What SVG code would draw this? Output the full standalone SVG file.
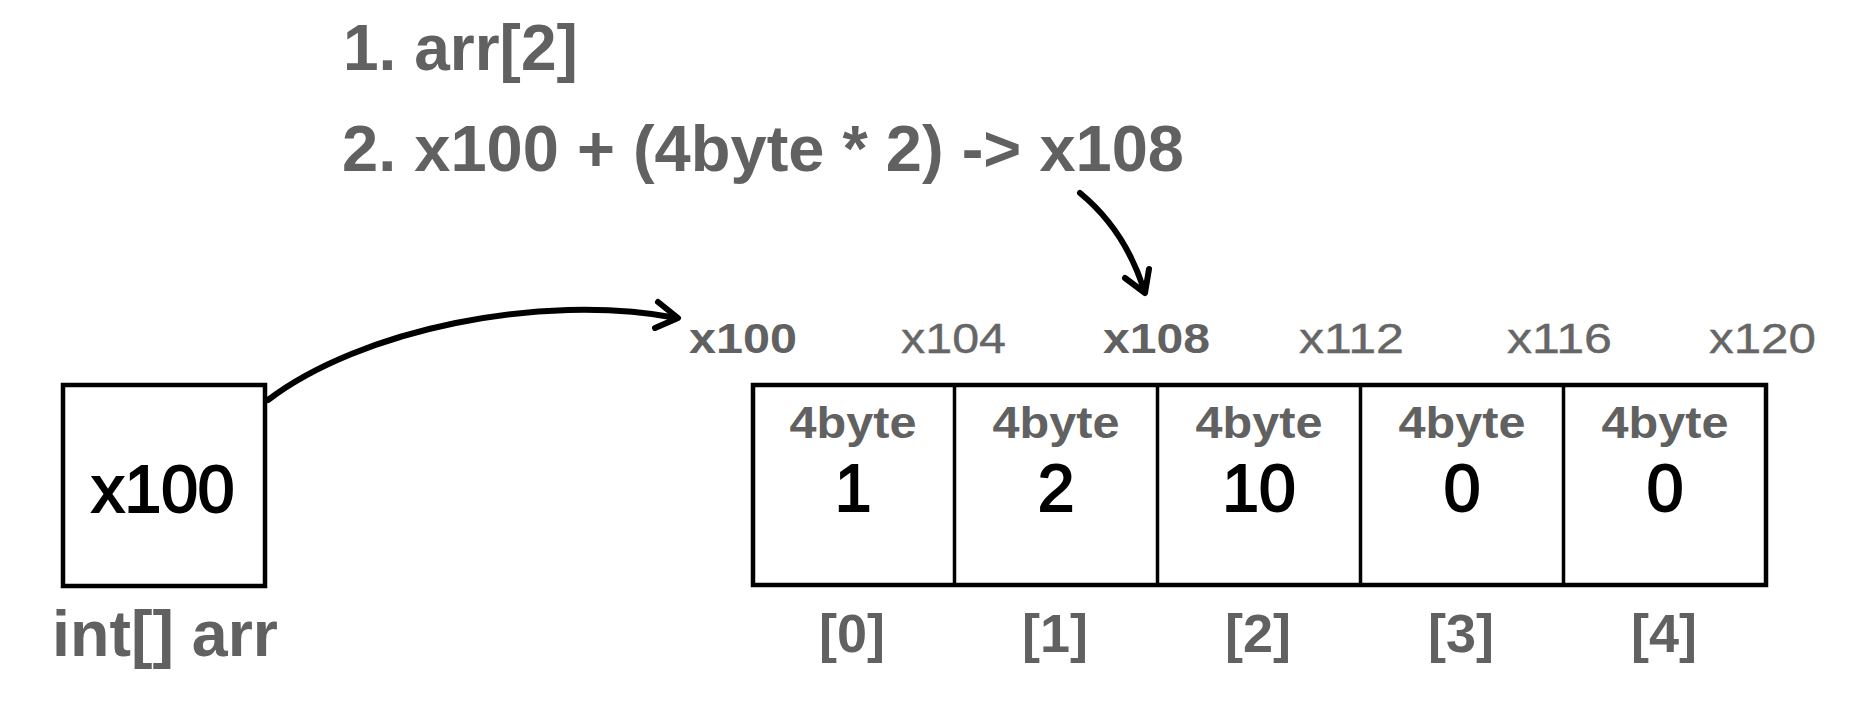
<svg xmlns="http://www.w3.org/2000/svg" width="1854" height="708" viewBox="0 0 1854 708">
<style>
.box{fill:#fff;stroke:#000;stroke-width:4.5}
.div{stroke:#000;stroke-width:3.5}
.gb{font-family:"Liberation Sans",Arial,sans-serif;font-weight:bold;fill:#616161}
.gr{font-family:"Liberation Sans",Arial,sans-serif;fill:#666;stroke:#666;stroke-width:0.4}
.num{font-family:"Liberation Sans",Arial,sans-serif;font-size:66px;fill:#000;stroke:#000;stroke-width:2;text-anchor:middle}
.addr{font-size:43px}
.byte{font-size:44px;text-anchor:middle}
.idx{font-size:54px;text-anchor:middle}
.conn{fill:none;stroke:#000;stroke-width:6;stroke-linecap:round;stroke-linejoin:round}
</style>
<rect width="1854" height="708" fill="#fff"/>
<g id="title">
<text class="gb" x="343" y="70" font-size="64">1. arr[2]</text>
<text class="gb" x="342" y="171" font-size="64" textLength="842" lengthAdjust="spacingAndGlyphs">2. x100 + (4byte * 2) -&gt; x108</text>
</g>
<g id="var-arr">
<rect class="box" x="63" y="385" width="202" height="201"/>
<text class="num" x="163" y="512">x100</text>
<text class="gb" x="52" y="656" font-size="65" textLength="226" lengthAdjust="spacingAndGlyphs">int[] arr</text>
</g>
<g id="addresses">
<text class="gb addr" x="689" y="353" textLength="108" lengthAdjust="spacingAndGlyphs">x100</text>
<text class="gr addr" x="901" y="353" textLength="105" lengthAdjust="spacingAndGlyphs">x104</text>
<text class="gb addr" x="1103" y="353" textLength="107" lengthAdjust="spacingAndGlyphs">x108</text>
<text class="gr addr" x="1299" y="353" textLength="105" lengthAdjust="spacingAndGlyphs">x112</text>
<text class="gr addr" x="1507" y="353" textLength="105" lengthAdjust="spacingAndGlyphs">x116</text>
<text class="gr addr" x="1709" y="353" textLength="107" lengthAdjust="spacingAndGlyphs">x120</text>
</g>
<g id="array">
<rect class="box" x="753" y="385" width="1013" height="200"/>
<line class="div" x1="954.5" y1="385" x2="954.5" y2="585"/>
<line class="div" x1="1157.5" y1="385" x2="1157.5" y2="585"/>
<line class="div" x1="1360.5" y1="385" x2="1360.5" y2="585"/>
<line class="div" x1="1563.5" y1="385" x2="1563.5" y2="585"/>
</g>
<g id="cell0">
<text class="gb byte" x="853" y="438" textLength="127" lengthAdjust="spacingAndGlyphs">4byte</text>
<text class="num" x="853" y="511">1</text>
<text class="gb idx" x="852" y="652">[0]</text>
</g>
<g id="cell1">
<text class="gb byte" x="1056" y="438" textLength="127" lengthAdjust="spacingAndGlyphs">4byte</text>
<text class="num" x="1056" y="511">2</text>
<text class="gb idx" x="1055" y="652">[1]</text>
</g>
<g id="cell2">
<text class="gb byte" x="1259" y="438" textLength="127" lengthAdjust="spacingAndGlyphs">4byte</text>
<text class="num" x="1259" y="511">10</text>
<text class="gb idx" x="1258" y="652">[2]</text>
</g>
<g id="cell3">
<text class="gb byte" x="1462" y="438" textLength="127" lengthAdjust="spacingAndGlyphs">4byte</text>
<text class="num" x="1462" y="511">0</text>
<text class="gb idx" x="1461" y="652">[3]</text>
</g>
<g id="cell4">
<text class="gb byte" x="1665" y="438" textLength="127" lengthAdjust="spacingAndGlyphs">4byte</text>
<text class="num" x="1665" y="511">0</text>
<text class="gb idx" x="1664" y="652">[4]</text>
</g>
<g id="connectors">
<path class="conn" d="M268,400 C360,330 540,292 677,318"/>
<path class="conn" d="M658,302 L678,318 L655,328"/>
<path class="conn" d="M1080,193 Q1125,230 1144,290"/>
<path class="conn" d="M1125,278 L1145,293 L1149,269"/>
</g>
</svg>
